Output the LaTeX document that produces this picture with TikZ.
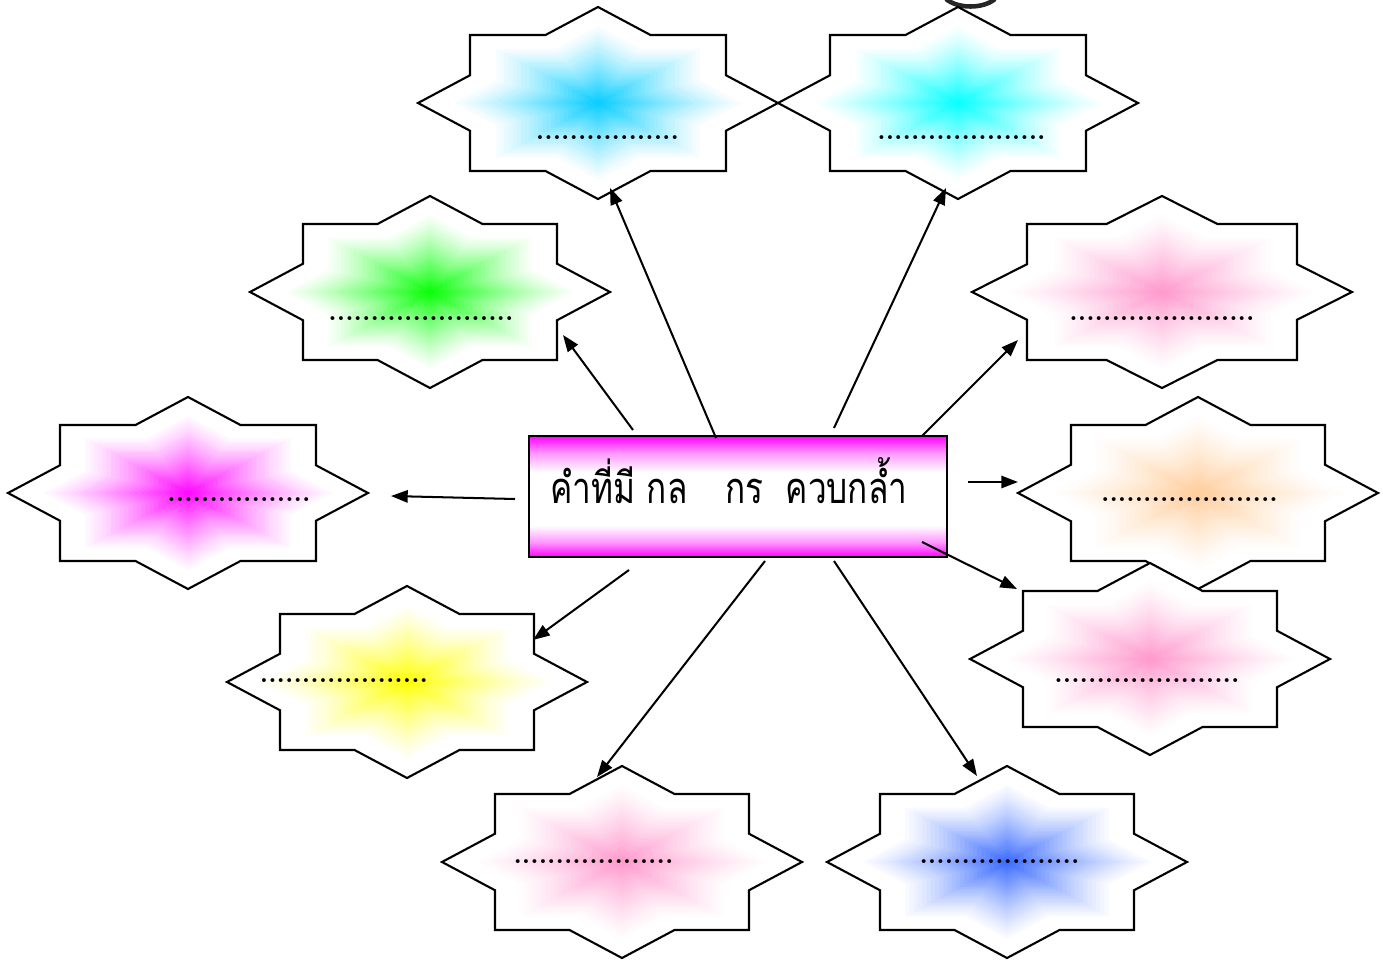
\documentclass[tikz,border=0pt]{standalone}
\usepackage{fontspec}
\newfontfamily\thaifont[Script=Thai]{Loma}
\usetikzlibrary{arrows.meta}
\definecolor{ctrmag}{RGB}{255,0,255}
\definecolor{ctrmagl}{RGB}{255,150,255}
\definecolor{cskyblue}{RGB}{0,204,255}
\definecolor{ccyan}{RGB}{0,255,255}
\definecolor{cgreen}{RGB}{0,255,0}
\definecolor{cpink}{RGB}{255,150,204}
\definecolor{cmagenta}{RGB}{255,0,255}
\definecolor{corange}{RGB}{255,204,153}
\definecolor{cyellow}{RGB}{255,255,0}
\definecolor{croyal}{RGB}{51,102,255}
\pgfdeclareverticalshading{ctrshade}{100bp}{color(0bp)=(ctrmag); color(25bp)=(ctrmag); color(31bp)=(ctrmagl); color(38bp)=(white); color(60bp)=(white); color(68bp)=(ctrmagl); color(75bp)=(ctrmag); color(100bp)=(ctrmag)}
\tikzset{
  starline/.style={draw=black, line width=1.2pt, line join=miter},
  ctrbox/.style={draw=black, line width=1.2pt, shading=ctrshade, minimum width=8.36cm, minimum height=2.42cm, inner sep=0pt},
  ctrtext/.style={font=\thaifont\fontsize{19}{23}\selectfont, inner sep=0pt, anchor=base, yscale=1.3, transform shape},
  dotrow/.style={font=\bfseries\fontsize{15.3}{18}\selectfont, inner sep=0pt, anchor=base},
  conn/.style={draw=black, line width=1.15pt, -{Triangle[length=9.5pt,width=7pt]}}
}
\newcommand{\gsPath}{(0,-96) -- (\gsT,-68) -- (\gsB,-68) -- (\gsB,-\gsR) -- (\gsA,0) -- (\gsB,\gsR) -- (\gsB,68) -- (\gsT,68) -- (0,96) -- (-\gsT,68) -- (-\gsB,68) -- (-\gsB,\gsR) -- (-\gsA,0) -- (-\gsB,-\gsR) -- (-\gsB,-68) -- (-\gsT,-68) -- cycle}
\newcommand{\gradstar}[5]{%
  \pgfmathsetmacro{\gsA}{#3}%
  \pgfmathsetmacro{\gsB}{#4}%
  \pgfmathsetmacro{\gsT}{#3*28/96}%
  \pgfmathsetmacro{\gsR}{96*(#3-#4)/#3}%
  \foreach \gsI in {0,...,29}{%
    \pgfmathsetmacro{\gsS}{1-\gsI/30}%
    \pgfmathsetmacro{\gsQ}{max(0.0001,1-\gsS/0.85)}%
    \pgfmathtruncatemacro{\gsP}{100*\gsQ^1.2}%
    \fill[#5!\gsP!white, shift={(#1,#2)}, scale=\gsS] \gsPath;
  }%
  \draw[starline, shift={(#1,#2)}] \gsPath;
}
\begin{document}
\begin{tikzpicture}[x=0.02cm, y=-0.02cm]
\useasboundingbox (0,0) rectangle (1383,966);
% fragment at the top edge
\draw[line width=2.6pt, draw=black!85] (946,-1) .. controls (958,9) and (983,9) .. (995,-1);
% stars
\gradstar{598}{103}{180}{128}{cskyblue}
\gradstar{958}{103}{180}{128}{ccyan}
\gradstar{430}{292}{180}{127}{cgreen}
\gradstar{1162}{292}{190}{135}{cpink}
\gradstar{188}{493}{180}{128}{cmagenta}
\gradstar{1198}{493}{180}{127}{corange}
\gradstar{1150}{659}{180}{127}{cpink}
\gradstar{407}{682}{180}{127}{cyellow}
\gradstar{622}{862}{180}{127}{cpink}
\gradstar{1007}{862}{180}{127}{croyal}
% dot rows
\node[dotrow] (d1) at (607.5,139.5) {.................};
\node[dotrow] (d2) at (961.5,139.5) {....................};
\node[dotrow] (d3) at (421,320.5) {......................};
\node[dotrow] (d4) at (1162,320.5) {......................};
\node[dotrow] (d5) at (239,501.5) {.................};
\node[dotrow] (d6) at (1189.5,501.5) {.....................};
\node[dotrow] (d7) at (1147,682.5) {......................};
\node[dotrow] (d8) at (344,682.5) {....................};
\node[dotrow] (d9) at (593.5,863.5) {...................};
\node[dotrow] (d10) at (999.5,863.5) {...................};
% centre box
\node[ctrbox] (ctr) at (738,496.5) {};
\node[ctrtext] (title) at (729,503) {คำที่มี กล\hspace{0.75cm}กร\hspace{0.45cm}ควบกล้ำ};
% connector end points
\coordinate (s1) at (716,438); \coordinate (e1) at (610,188);
\coordinate (s2) at (834,428); \coordinate (e2) at (946,188);
\coordinate (s3) at (633,430); \coordinate (e3) at (563,335);
\coordinate (s4) at (922,436); \coordinate (e4) at (1018,340);
\coordinate (s5) at (515,499); \coordinate (e5) at (391,496);
\coordinate (s6) at (968,482); \coordinate (e6) at (1018,482);
\coordinate (s7) at (922,542); \coordinate (e7) at (1017,589);
\coordinate (s8) at (629,570); \coordinate (e8) at (533,640);
\coordinate (s9) at (765,561); \coordinate (e9) at (597,777);
\coordinate (s10) at (834,561); \coordinate (e10) at (977,776);
\foreach \k in {1,...,10}{\draw[conn] (s\k) -- (e\k);}
\end{tikzpicture}
\end{document}
